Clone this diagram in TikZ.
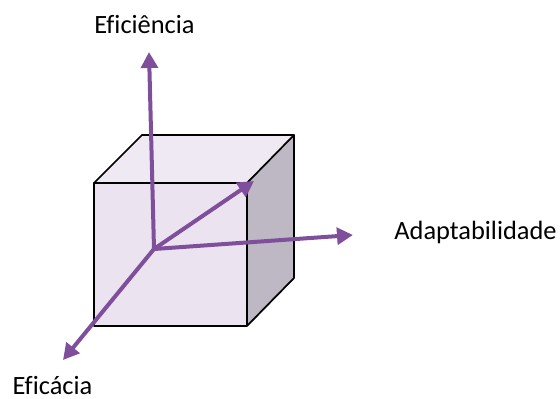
\documentclass[tikz,border=0pt]{standalone}
\usepackage{fontspec}
\setmainfont[Ligatures=NoCommon]{Carlito}
\usepackage{xcolor}
\definecolor{deeppurple}{HTML}{7F4F9C}
\definecolor{frontface}{HTML}{EBE4F0}
\definecolor{topface}{HTML}{EFE9F4}
\definecolor{sideface}{HTML}{BDB8C3}
\usetikzlibrary{arrows.meta,positioning}
\tikzset{
  axislabel/.style={inner sep=0pt,font=\fontsize{19.8}{23}\selectfont},
  cubeface/.style={draw=black,line width=1.3pt,line join=round},
  axisarrow/.style={-{Triangle[length=12pt,width=12.5pt]},line width=3pt,deeppurple}
}

\begin{document}
\begin{tikzpicture}[x=0.75pt,y=-0.75pt]
\useasboundingbox (0,0) rectangle (560,399);
\coordinate (ftl) at (94,183);
\coordinate (ftr) at (247,183);
\coordinate (fbl) at (94,326);
\coordinate (fbr) at (247,326);
\coordinate (btl) at (142,135);
\coordinate (btr) at (294,135);
\coordinate (bbr) at (294,278);
\coordinate (o) at (154,249);
\coordinate (eficienciatip) at (149,52);
\coordinate (cornertip) at (254,181);
\coordinate (adapttip) at (353,235);
\coordinate (eficaciatip) at (63,360);
\fill[frontface] (ftl)--(ftr)--(fbr)--(fbl)--cycle;
\fill[topface] (ftl)--(btl)--(btr)--(ftr)--cycle;
\fill[sideface] (ftr)--(btr)--(bbr)--(fbr)--cycle;
\draw[cubeface] (ftl)--(ftr)--(fbr)--(fbl)--cycle;
\draw[cubeface] (ftl)--(btl)--(btr)--(ftr);
\draw[cubeface] (btr)--(bbr)--(fbr);
\draw[axisarrow] (o)--(eficienciatip);
\draw[axisarrow] (o)--(cornertip);
\draw[axisarrow] (o)--(adapttip);
\draw[axisarrow] (o)--(eficaciatip);
\node[axislabel] (eficiencia) at (144.5,24.5) {Eficiência};
\node[axislabel] (adaptabilidade) at (475.5,232) {Adaptabilidade};
\node[axislabel] (eficacia) at (52.5,386) {Eficácia};
\end{tikzpicture}
\end{document}
